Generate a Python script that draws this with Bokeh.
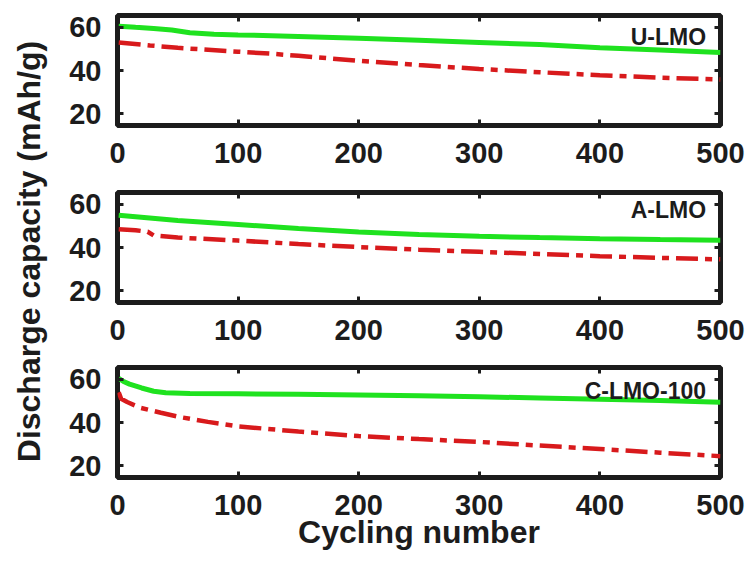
from math import pi

from bokeh.embed import file_html
from bokeh.layouts import column, row
from bokeh.models import CustomJSTickFormatter, FixedTicker, Label, LinearAxis, Range1d
from bokeh.plotting import figure
from bokeh.resources import INLINE

# ---- data: discharge capacity (mAh/g) vs. cycle number ----
u_cyc_g = [1, 15, 30, 45, 60, 80, 100, 150, 200, 250, 300, 350, 400, 450, 500]
u_green = [60.5, 60.0, 59.5, 58.8, 57.5, 56.8, 56.5, 55.8, 55.0, 54.0, 53.0, 52.0, 50.5, 49.5, 48.3]
u_cyc_r = [1, 27, 50, 100, 127, 150, 200, 250, 300, 350, 400, 450, 500]
u_red = [53.0, 51.6, 50.5, 48.7, 47.8, 46.8, 44.5, 42.5, 40.7, 39.2, 37.8, 36.7, 35.8]

a_cyc_g = [1, 50, 100, 150, 200, 250, 300, 350, 400, 450, 500]
a_green = [55.0, 52.5, 50.7, 48.8, 47.2, 46.0, 45.2, 44.6, 44.1, 43.7, 43.4]
a_cyc_r = [1, 15, 25, 30, 50, 100, 150, 200, 250, 300, 350, 400, 450, 500]
a_red = [48.5, 48.0, 47.3, 45.6, 44.6, 43.2, 41.6, 40.2, 39.0, 38.0, 37.0, 36.0, 35.2, 34.5]

c_cyc_g = [1, 5, 10, 20, 30, 40, 60, 100, 150, 200, 250, 300, 350, 400, 450, 500]
c_green = [60.5, 59.0, 57.8, 56.0, 54.5, 53.8, 53.4, 53.3, 53.1, 52.8, 52.4, 51.9, 51.4, 50.8, 50.2, 49.4]
c_cyc_r = [1, 3, 8, 19, 36, 52, 75, 100, 150, 200, 250, 300, 350, 400, 450, 500]
c_red = [54.0, 51.0, 49.5, 46.8, 44.5, 42.5, 40.3, 38.2, 35.8, 33.7, 32.3, 31.0, 29.3, 27.7, 26.0, 24.4]

sample_names = ["U-LMO", "A-LMO", "C-LMO-100"]
x_ticks = [0, 100, 200, 300, 400, 500]
y_ticks = [20, 40, 60]

FONT = "Liberation Sans"
INK = "#1c1c1c"
GREEN = "#1fe21f"
RED = "#d81a1c"

BLANK = CustomJSTickFormatter(code="return ''")


def style_axis(ax, show_labels=True):
    ax.axis_line_color = None
    ax.major_tick_in = 6
    ax.major_tick_out = 0
    ax.major_tick_line_width = 3
    ax.major_tick_line_color = INK
    ax.minor_tick_line_color = None
    ax.major_label_text_font = FONT
    ax.major_label_text_font_style = "bold"
    ax.major_label_text_color = INK
    ax.major_label_text_font_size = "29px"
    if not show_labels:
        ax.formatter = BLANK
        ax.major_label_standoff = 0


def panel(cg, g, cr, r, name, name_y, top, bottom, xlabel=None):
    p = figure(frame_width=603, frame_height=110,
               min_border_left=61, min_border_right=29,
               min_border_top=top, min_border_bottom=bottom,
               x_range=Range1d(0, 500), y_range=Range1d(14.5, 65.5),
               toolbar_location=None, output_backend="svg")
    p.grid.visible = False
    p.background_fill_color = "white"
    p.border_fill_color = "white"
    p.outline_line_color = INK
    p.outline_line_width = 5

    p.line(cg, g, line_color=GREEN, line_width=5)
    p.line(cr, r, line_color=RED, line_width=4.5, line_dash="22 7 7 7")

    bottom_ax = p.below[0]
    left_ax = p.left[0]
    bottom_ax.ticker = FixedTicker(ticks=x_ticks)
    left_ax.ticker = FixedTicker(ticks=y_ticks)
    style_axis(bottom_ax)
    style_axis(left_ax)
    bottom_ax.major_label_standoff = 17
    left_ax.major_label_standoff = 16

    # tick marks on the top and right edges of the box, without labels
    top_ax = LinearAxis(ticker=FixedTicker(ticks=x_ticks[1:-1]))
    style_axis(top_ax, show_labels=False)
    p.add_layout(top_ax, "above")
    right_ax = LinearAxis(ticker=FixedTicker(ticks=y_ticks))
    style_axis(right_ax, show_labels=False)
    p.add_layout(right_ax, "right")

    if xlabel:
        bottom_ax.axis_label = xlabel
        bottom_ax.axis_label_text_font = FONT
        bottom_ax.axis_label_text_font_size = "32px"
        bottom_ax.axis_label_text_font_style = "bold"
        bottom_ax.axis_label_text_color = INK
        bottom_ax.axis_label_standoff = -4

    p.add_layout(Label(x=488, y=name_y, text=name, text_align="right",
                       text_baseline="middle", text_font=FONT,
                       text_font_size="23px", text_font_style="bold",
                       text_color=INK))
    return p


p1 = panel(u_cyc_g, u_green, u_cyc_r, u_red, sample_names[0], 55.6, 15, 55)
p2 = panel(a_cyc_g, a_green, a_cyc_r, a_red, sample_names[1], 57.4, 12, 53)
p3 = panel(c_cyc_g, c_green, c_cyc_r, c_red, sample_names[2], 54.5, 12, 85,
           xlabel="Cycling number")

# shared y-axis title in a narrow strip on the left
side = figure(width=56, height=562, min_border=0,
              x_range=Range1d(0, 56), y_range=Range1d(0, 562),
              toolbar_location=None, output_backend="svg")
side.axis.visible = False
side.grid.visible = False
side.outline_line_color = None
side.add_layout(Label(x=28, y=311, text="Discharge capacity (mAh/g)",
                      angle=pi / 2, text_align="center", text_baseline="middle",
                      text_font=FONT, text_font_size="32px",
                      text_font_style="bold", text_color=INK))

layout = row(side, column(p1, p2, p3, spacing=0), spacing=0)

open("out.html", "w").write(file_html(layout, INLINE, "Discharge capacity"))
